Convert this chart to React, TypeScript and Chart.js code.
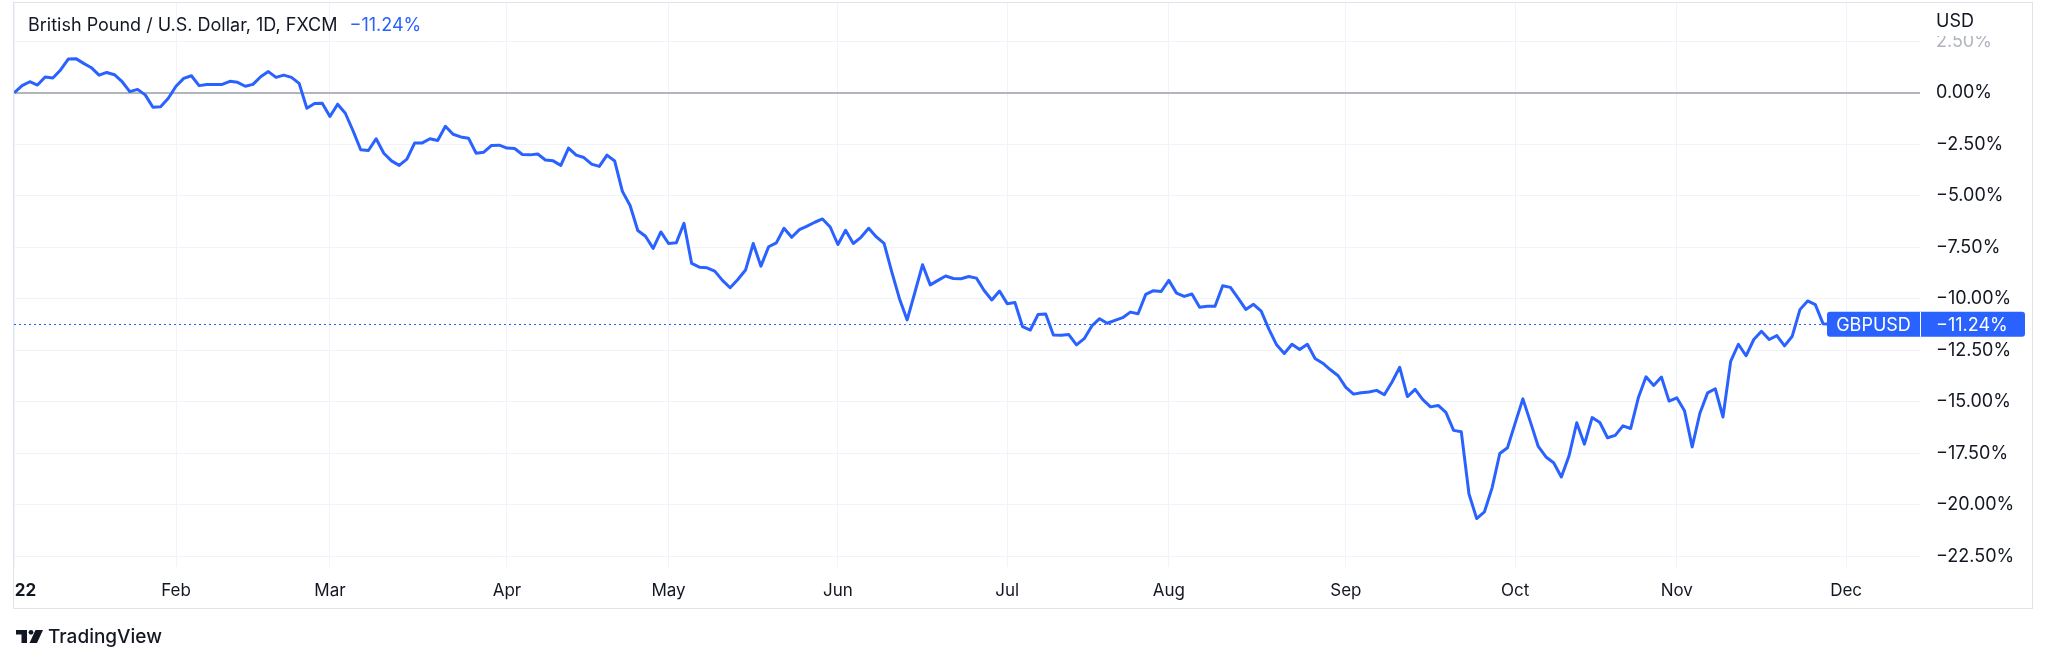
import React, { useEffect, useRef } from 'react';
import { Chart, registerables } from 'chart.js';

Chart.register(...registerables);

// ---- data ----
const symbol = 'GBPUSD';
const titleText = 'British Pound / U.S. Dollar, 1D, FXCM';
const axisUnit = 'USD';
const monthTickIdx = [0, 21, 41, 64, 85, 107, 129, 150, 173, 195, 216, 238];
const monthLabels = ['2022', 'Feb', 'Mar', 'Apr', 'May', 'Jun', 'Jul', 'Aug', 'Sep', 'Oct', 'Nov', 'Dec'];
const yTickValues = [2.5, 0, -2.5, -5, -7.5, -10, -12.5, -15, -17.5, -20, -22.5];

// daily % change since first bar (trading days, Jan 3 2022 ... end of Nov 2022)
const pctJanMar = [
  0, 0.34, 0.53, 0.37, 0.76, 0.71, 1.10, 1.63, 1.65, 1.42, 1.21, 0.85, 0.98, 0.87, 0.53, 0.05, 0.16, -0.11, -0.71, -0.68,
  -0.27, 0.31, 0.69, 0.82, 0.34, 0.40, 0.40, 0.40, 0.55, 0.50, 0.31, 0.40, 0.77, 1.02, 0.74, 0.85, 0.74, 0.45, -0.76, -0.53,
  -0.52, -1.16, -0.56, -1.00, -1.85, -2.77, -2.81, -2.24, -2.94, -3.31, -3.53, -3.23, -2.45, -2.44, -2.24, -2.32, -1.63, -2.02, -2.15, -2.21,
];
const pctAprJun = [
  -2.94, -2.89, -2.56, -2.55, -2.69, -2.71, -3.00, -3.02, -2.98, -3.27, -3.31, -3.53, -2.69, -3.03, -3.15, -3.47, -3.58, -3.03, -3.32, -4.79,
  -5.48, -6.69, -6.97, -7.56, -6.76, -7.32, -7.29, -6.34, -8.29, -8.47, -8.50, -8.66, -9.11, -9.47, -9.07, -8.61, -7.32, -8.42, -7.48, -7.29,
  -6.58, -7.02, -6.65, -6.48, -6.29, -6.13, -6.52, -7.37, -6.68, -7.32, -7.02, -6.58, -7.00, -7.32, -8.70, -10.00, -11.03, -9.70, -8.35, -9.33,
];
const pctJulSep = [
  -9.11, -8.90, -9.02, -9.03, -8.92, -9.00, -9.60, -10.06, -9.63, -10.24, -10.18, -11.36, -11.52, -10.77, -10.74, -11.76, -11.77, -11.74, -12.24, -11.94,
  -11.32, -10.97, -11.19, -11.05, -10.92, -10.65, -10.73, -9.79, -9.61, -9.65, -9.11, -9.73, -9.89, -9.77, -10.42, -10.37, -10.37, -9.37, -9.45, -9.97,
  -10.52, -10.27, -10.60, -11.48, -12.24, -12.66, -12.21, -12.47, -12.21, -12.90, -13.13, -13.45, -13.74, -14.30, -14.63, -14.56, -14.53, -14.45, -14.66, -14.04,
];
const pctOctNov = [
  -13.33, -14.75, -14.40, -14.90, -15.25, -15.18, -15.52, -16.39, -16.46, -19.48, -20.67, -20.35, -19.18, -17.51, -17.23, -16.04, -14.86, -16.00, -17.17, -17.68,
  -17.96, -18.65, -17.62, -16.02, -17.06, -15.77, -16.01, -16.75, -16.63, -16.17, -16.30, -14.81, -13.79, -14.21, -13.80, -14.97, -14.81, -15.44, -17.19, -15.56,
  -14.57, -14.37, -15.74, -13.04, -12.21, -12.77, -11.98, -11.58, -11.98, -11.79, -12.29, -11.82, -10.53, -10.11, -10.29, -11.21, -11.24,
];
const pctChange = [...pctJanMar, ...pctAprJun, ...pctJulSep, ...pctOctNov];
const lastValue = pctChange[pctChange.length - 1];

const FONT = 'Inter, "Noto Sans", sans-serif';
const TEXT = '#131722';
const BLUE = '#2962ff';
const GRID = '#f0f3fa';

const fmtPct = (v: number) => (v < 0 ? '\u2212' : '') + Math.abs(v).toFixed(2) + '%';

const zeroPadding = (scale: any) => {
  scale.paddingLeft = 0;
  scale.paddingRight = 0;
  scale.paddingTop = 0;
  scale.paddingBottom = 0;
};

export default function App() {
  const ref = useRef<HTMLCanvasElement>(null);

  useEffect(() => {
    const canvas = ref.current as HTMLCanvasElement;

    const overlay = {
      id: 'overlay',
      beforeDatasetsDraw(chart: any) {
        const { ctx, chartArea } = chart;
        const y = chart.scales.y.getPixelForValue(lastValue);
        ctx.save();
        ctx.strokeStyle = BLUE;
        ctx.lineWidth = 1;
        ctx.setLineDash([2, 3]);
        ctx.beginPath();
        ctx.moveTo(chartArea.left, Math.round(y) + 0.5);
        ctx.lineTo(chartArea.right, Math.round(y) + 0.5);
        ctx.stroke();
        ctx.restore();
      },
      afterDraw(chart: any) {
        const { ctx, chartArea } = chart;
        const W = chart.width;
        ctx.save();
        // left clip mask
        ctx.fillStyle = '#ffffff';
        ctx.fillRect(0, 0, chartArea.left - 1, chart.height);
        // USD header over y axis
        ctx.fillRect(chartArea.right + 1, 0, W - chartArea.right - 17, 36);
        ctx.fillStyle = TEXT;
        ctx.font = `18px ${FONT}`;
        ctx.textBaseline = 'middle';
        ctx.textAlign = 'left';
        ctx.fillText(axisUnit, chartArea.right + 16, 22);

        // title
        ctx.font = `18px ${FONT}`;
        ctx.fillStyle = TEXT;
        ctx.fillText(titleText, 28, 26);
        const tw = ctx.measureText(titleText).width;
        ctx.fillStyle = BLUE;
        ctx.fillText(fmtPct(lastValue), 28 + tw + 12, 26);

        // price label boxes
        const y = chart.scales.y.getPixelForValue(lastValue);
        const top = y - 12.5;
        const x0 = chartArea.right - 93;
        const x1 = chartArea.right + 105;
        ctx.fillStyle = BLUE;
        ctx.beginPath();
        (ctx as any).roundRect(x0, top, x1 - x0, 25, 3);
        ctx.fill();
        ctx.fillStyle = '#ffffff';
        ctx.fillRect(chartArea.right, top, 1, 25);
        ctx.font = `18px ${FONT}`;
        ctx.textAlign = 'center';
        ctx.fillText(symbol, (x0 + chartArea.right) / 2, y + 1);
        ctx.textAlign = 'left';
        ctx.fillText(fmtPct(lastValue), chartArea.right + 16, y + 1);

        // frame
        ctx.strokeStyle = '#e0e3eb';
        ctx.lineWidth = 1;
        ctx.strokeRect(13.5, 2.5, 2019, 606);

        // TradingView logo
        ctx.fillStyle = TEXT;
        ctx.fillRect(16, 630, 11, 4.5);
        ctx.fillRect(21.5, 630, 5.5, 13);
        ctx.beginPath();
        ctx.arc(31, 632.3, 2.4, 0, Math.PI * 2);
        ctx.fill();
        ctx.beginPath();
        ctx.moveTo(35.5, 630);
        ctx.lineTo(43, 630);
        ctx.lineTo(37, 643);
        ctx.lineTo(29.5, 643);
        ctx.closePath();
        ctx.fill();
        ctx.font = `500 19px ${FONT}`;
        ctx.textAlign = 'left';
        ctx.fillText('TradingView', 48, 637);
        ctx.restore();
      },
    };

    const chart = new Chart(canvas, {
      type: 'line',
      data: {
        datasets: [
          {
            data: pctChange.map((v, i) => ({ x: i, y: v })),
            borderColor: BLUE,
            borderWidth: 3,
            pointRadius: 0,
            tension: 0,
            fill: false,
            borderJoinStyle: 'round',
          },
        ],
      },
      options: {
        responsive: false,
        animation: false,
        devicePixelRatio: 1,
        layout: { autoPadding: false, padding: { left: 14, top: 3, right: 0, bottom: 0 } },
        plugins: { legend: { display: false }, tooltip: { enabled: false } },
        scales: {
          x: {
            type: 'linear',
            min: -0.05,
            max: 247.6,
            afterBuildTicks: (scale: any) => {
              scale.ticks = monthTickIdx.map((v) => ({ value: v }));
            },
            afterFit: (scale: any) => {
              scale.height = 95;
              zeroPadding(scale);
            },
            grid: { color: GRID, lineWidth: 1, drawTicks: false },
            border: { display: false },
            ticks: {
              autoSkip: false,
              maxRotation: 0,
              padding: 14,
              color: TEXT,
              font: (c: any) => ({ family: FONT, size: 17, weight: c.tick && c.tick.value === 0 ? '700' : '400' }),
              callback: (v: any) => monthLabels[monthTickIdx.indexOf(Number(v))],
            },
          },
          y: {
            type: 'linear',
            position: 'right',
            min: -23.02,
            max: 4.35,
            afterBuildTicks: (scale: any) => {
              scale.ticks = yTickValues.map((v) => ({ value: v }));
            },
            afterFit: (scale: any) => {
              scale.width = 128;
              zeroPadding(scale);
            },
            grid: {
              color: (c: any) => (c.tick && c.tick.value === 0 ? '#b2b5be' : GRID),
              lineWidth: (c: any) => (c.tick && c.tick.value === 0 ? 2 : 1),
              drawTicks: false,
            },
            border: { display: false },
            ticks: {
              padding: 16,
              color: (c: any) => (c.tick && c.tick.value === 2.5 ? '#b2b5be' : TEXT),
              font: { family: FONT, size: 18 },
              callback: (v: any) => fmtPct(Number(v)),
            },
          },
        },
      },
      plugins: [overlay],
    } as any);

    return () => chart.destroy();
  }, []);

  return (
    <div style={{ position: 'absolute', left: 0, top: 0, width: 2048, height: 662, background: '#ffffff' }}>
      <canvas ref={ref} width={2048} height={662} style={{ display: 'block', width: 2048, height: 662 }} />
    </div>
  );
}
